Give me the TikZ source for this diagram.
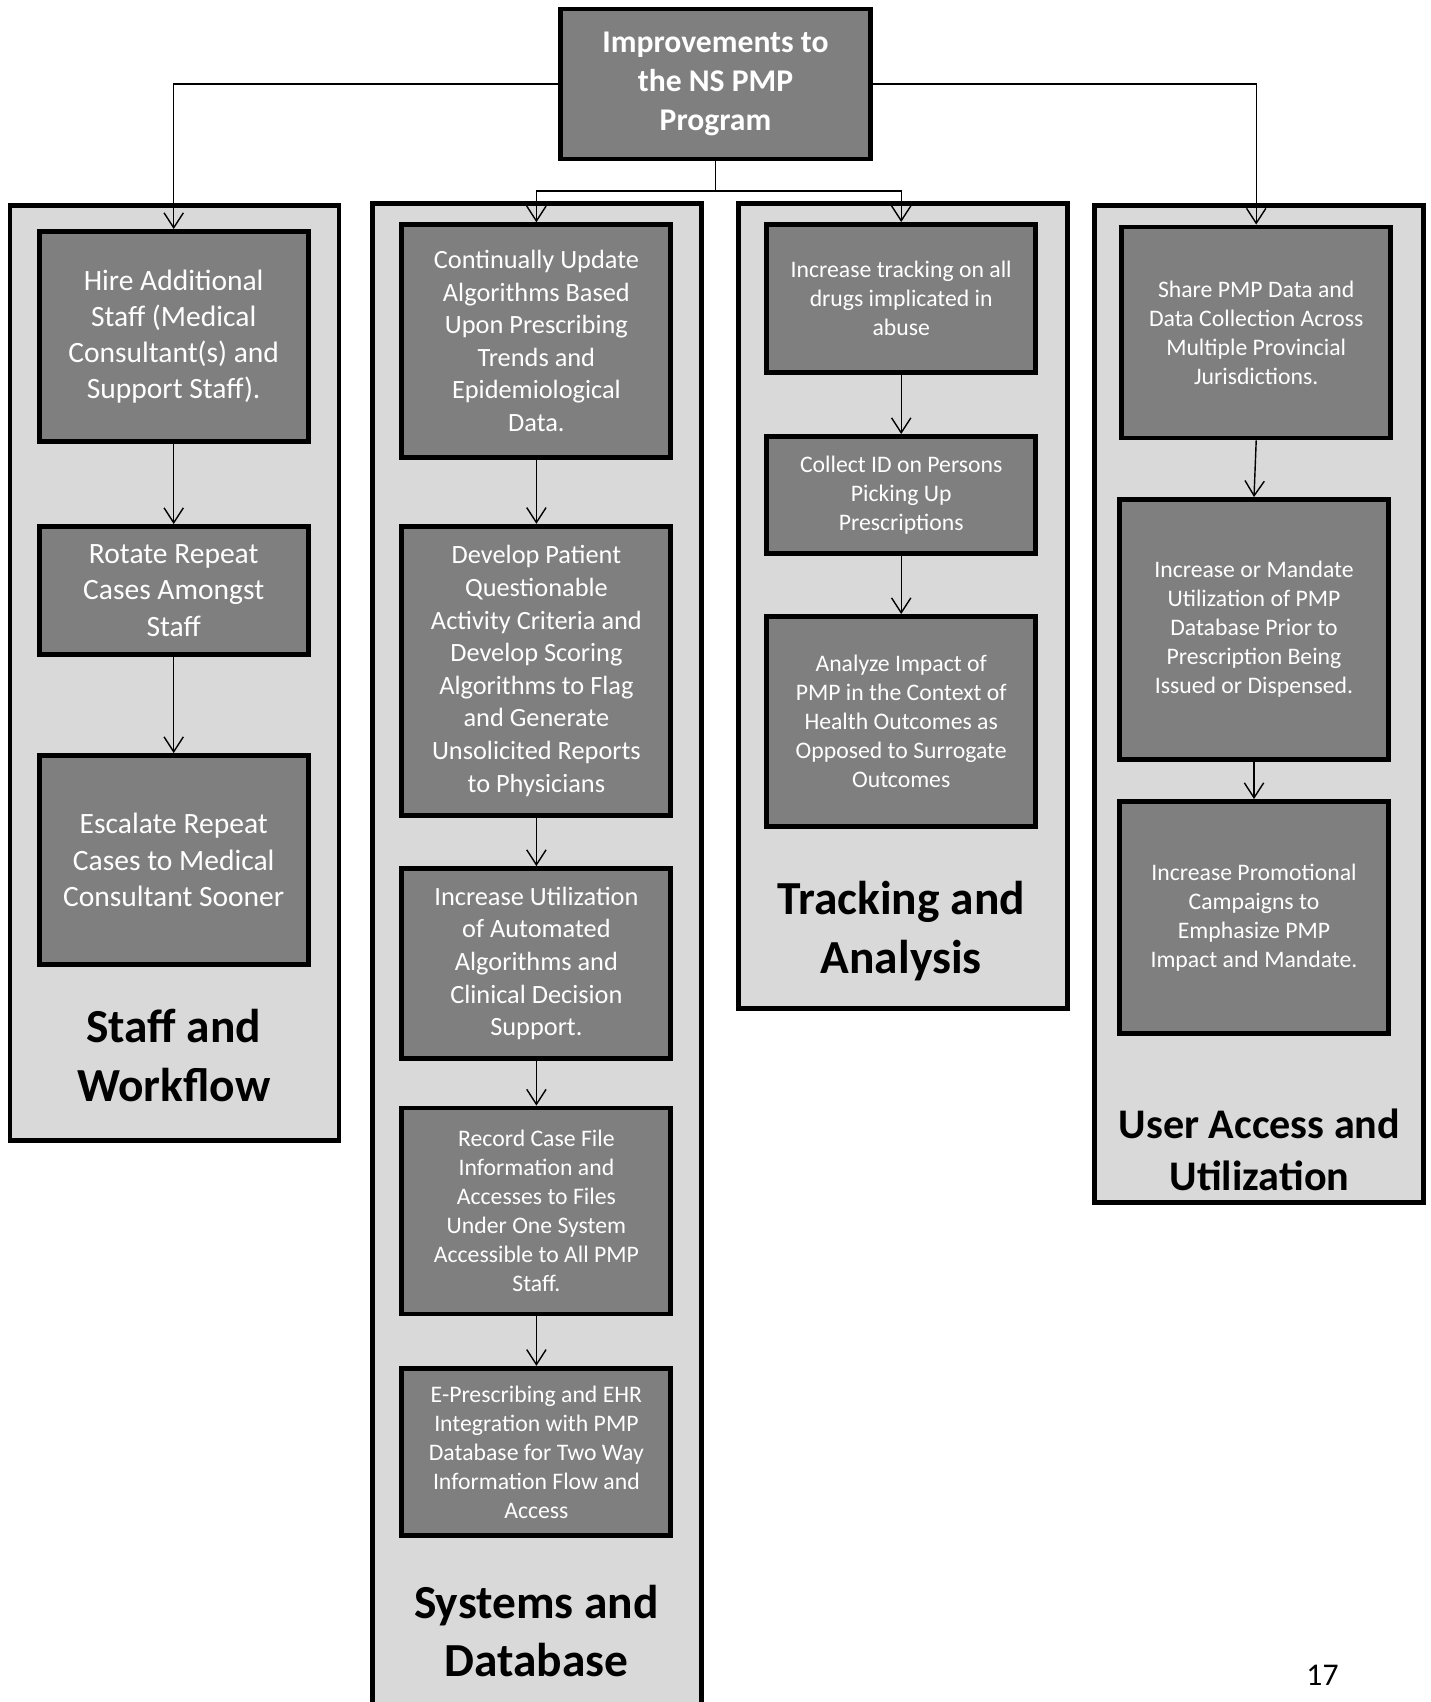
\documentclass[tikz,border=0pt]{standalone}
\usepackage{fontspec}
\setmainfont{Carlito}
\usetikzlibrary{arrows.meta}
\definecolor{boxgray}{HTML}{7F7F7F}
\definecolor{panelgray}{HTML}{D9D9D9}
\begin{document}
\begin{tikzpicture}[x=0.02cm, y=-0.02cm,
        pbox/.style={draw=black, line width=2.8pt, fill=boxgray, text=white, align=center, minimum width=5.38cm, inner sep=2pt},
        bigtxt/.style={font=\fontsize{16.8}{20.6}\selectfont},
        midtxt/.style={font=\fontsize{15}{18.55}\selectfont},
        smalltxt/.style={font=\fontsize{13.5}{16.5}\selectfont},
        panel/.style={fill=panelgray, draw=black, line width=2.8pt},
        ttl/.style={align=center, font=\bfseries\fontsize{27}{33.3}\selectfont},
        link/.style={draw=black, line width=0.8pt, -{Straight Barb[length=8.5pt, width=11pt]}}]
        %\draw [help lines, step=100] (0,0) grid (1430,1702);
        \useasboundingbox (0,0) rectangle (1430,1702);

        %the panels behind the columns
        \path [panel] (10,205.5) rectangle (339,1140.5);
        \fill [panelgray] (372.5,203.5) rectangle (701.5,1702);
        \draw [black, line width=2.8pt] (372.5,1702) -- (372.5,203.5) -- (701.5,203.5) -- (701.5,1702);
        \path [panel] (738.5,203.5) rectangle (1067.5,1008.5);
        \path [panel] (1094.5,205.5) rectangle (1423.5,1202.5);

        %the main figure starts
        \node [pbox, minimum width=6.2cm, minimum height=3cm, font=\bfseries\fontsize{18}{22.2}\selectfont] (top) at (715.5,84) {Improvements to\\the NS PMP\\Program};

        % staff and workflow
        \node [pbox, bigtxt, minimum height=4.2cm] (hire) at (173.7,336.5) {Hire Additional\\Staff (Medical\\Consultant(s) and\\Support Staff).};
        \node [pbox, bigtxt, minimum height=2.56cm] (rotate) at (173.7,590.5) {Rotate Repeat\\Cases Amongst\\Staff};
        \node [pbox, bigtxt, minimum height=4.18cm] (escalate) at (173.7,860) {Escalate Repeat\\Cases to Medical\\Consultant Sooner};
        \node [ttl] (staff) at (173.7,1055.5) {Staff and\\Workflow};

        % systems and database
        \node [pbox, midtxt, minimum height=4.65cm] (update) at (536.4,341) {Continually Update\\Algorithms Based\\Upon Prescribing\\Trends and\\Epidemiological\\Data.};
        \node [pbox, midtxt, minimum height=5.79cm] (develop) at (536.4,671) {Develop Patient\\Questionable\\Activity Criteria and\\Develop Scoring\\Algorithms to Flag\\and Generate\\Unsolicited Reports\\to Physicians};
        \node [pbox, midtxt, minimum height=3.8cm] (autoalg) at (536.4,963.5) {Increase Utilization\\of Automated\\Algorithms and\\Clinical Decision\\Support.};
        \node [pbox, smalltxt, minimum height=4.12cm] (record) at (536.4,1211) {Record Case File\\Information and\\Accesses to Files\\Under One System\\Accessible to All PMP\\Staff.};
        \node [pbox, smalltxt, minimum height=3.35cm] (eprescr) at (536.4,1452) {E-Prescribing and EHR\\Integration with PMP\\Database for Two Way\\Information Flow and\\Access};
        \node [ttl] (systems) at (536.4,1631) {Systems and\\Database};

        % tracking and analysis
        \node [pbox, smalltxt, minimum height=2.96cm] (track) at (901.2,298.5) {Increase tracking on all\\drugs implicated in\\abuse};
        \node [pbox, smalltxt, minimum height=2.34cm] (collect) at (901.2,495) {Collect ID on Persons\\Picking Up\\Prescriptions};
        \node [pbox, smalltxt, minimum height=4.2cm] (analyze) at (901.2,721.5) {Analyze Impact of\\PMP in the Context of\\Health Outcomes as\\Opposed to Surrogate\\Outcomes};
        \node [ttl] (tracking) at (901.2,931) {Tracking and\\Analysis};

        % user access and utilization
        \node [pbox, smalltxt, minimum height=4.22cm] (share) at (1256.2,332.5) {Share PMP Data and\\Data Collection Across\\Multiple Provincial\\Jurisdictions.};
        \node [pbox, smalltxt, minimum height=5.2cm] (mandate) at (1254,629.5) {Increase or Mandate\\Utilization of PMP\\Database Prior to\\Prescription Being\\Issued or Dispensed.};
        \node [pbox, smalltxt, minimum height=4.64cm] (promo) at (1254,917.5) {Increase Promotional\\Campaigns to\\Emphasize PMP\\Impact and Mandate.};
        \node [ttl, font=\bfseries\fontsize{24}{29.6}\selectfont] (useraccess) at (1259.5,1150) {User Access and\\Utilization};

        \node [font=\fontsize{18}{22}\selectfont] (pagenum) at (1322.5,1675.5) {17};

        % connectors
        \coordinate (fork) at (715.5,191);
        \draw [link] (top.west) -| (hire.north);
        \draw [link] (top.east) -| (share.north);
        \draw [link] (top.south) -- (fork) -| (update.north);
        \draw [link] (fork) -| (track.north);

        \draw [link] (hire) -- (rotate);
        \draw [link] (rotate) -- (escalate);
        \draw [link] (update) -- (develop);
        \draw [link] (develop) -- (autoalg);
        \draw [link] (autoalg) -- (record);
        \draw [link] (record) -- (eprescr);
        \draw [link] (track) -- (collect);
        \draw [link] (collect) -- (analyze);
        \draw [link] (share.south) -- (mandate.north);
        \draw [link] (mandate) -- (promo);

    \end{tikzpicture}
\end{document}
